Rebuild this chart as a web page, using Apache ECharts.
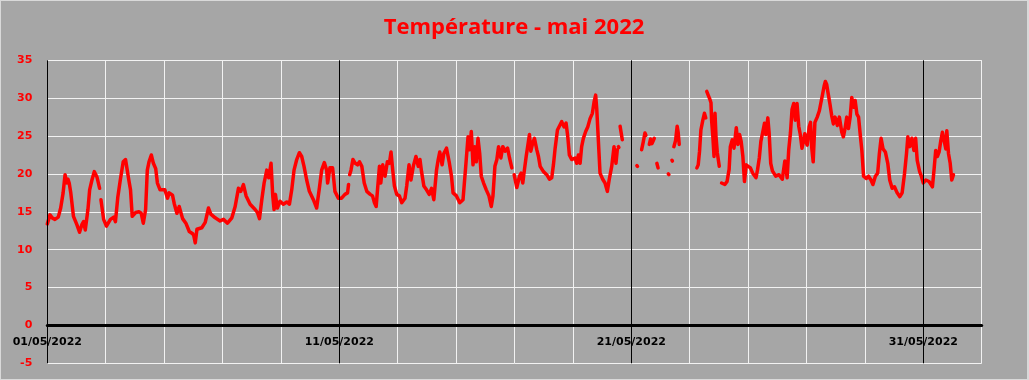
<!DOCTYPE html>
<html>
<head>
<meta charset="utf-8">
<script src="https://cdn.jsdelivr.net/npm/echarts@6/dist/echarts.min.js"></script>
<style>
  html, body { margin: 0; padding: 0; background: #d9d9d9; }
  #chart {
    width: 1029px;
    height: 380px;
    box-sizing: border-box;
    border-style: solid;
    border-color: #d9d9d9;
    border-width: 1px 2px 1px 1px;
  }
</style>
</head>
<body>
<div id="chart"></div>
<script>
// heures depuis le 01/05/2022 00:00
const labelHours = [0, 240, 480, 720];
const dateLabels = ['01/05/2022', '11/05/2022', '21/05/2022', '31/05/2022'];

// relevés (heure, température °C) ; null = pas de mesure
const hours = [
  0, 2.2, 4, 6.3, 9, 11, 13, 14.6, 16, 17, 18, 19.3, 21.5, 24.3, 26.5, 28.4, 29.8, 31.2, 33.4, 34.8,
  36.7, 38.6, 40.8, 43, 43.6,
  44.1, 46.3, 48.6, 51.9, 54.6, 56, 58, 60, 62.4, 64.3, 65.7, 67, 68.4, 69.8, 72.6, 75.3, 77.2, 78.9, 80.8, 82.2,
  83.6, 85.5, 87.2, 89.1, 90.5, 92.7, 96.6, 98.8, 100.2, 102.9, 104.3, 106.5, 108.4, 111.2, 113.9, 116.7, 119.5, 120.5, 121.6, 122.2,
  123, 127, 129.8, 132.5, 134.4, 138, 142, 144.8, 148.1, 151.7, 154.4, 157.1, 159, 161.2, 163.4, 166.7, 170.8, 172.7, 174.4, 176.3,
  178.2, 180.4, 182, 183.9, 185.3, 186.4, 187.5, 189.1, 191.3, 194, 196.8, 199, 200.9, 202.8, 205, 207.2, 209.1, 211, 213.2, 215.4,
  218.7, 221.4, 223.6, 225.5, 227.7, 229.6, 230.4, 232.3, 234.5, 236.4, 239.2, 241.9, 244.6, 246.8, 247.6, 248,
  248.5, 249.6, 251.2, 253.1, 255, 256.6, 258.5, 260.5, 262.6, 265.4, 267.3, 268.9, 270.3, 271.4, 273, 274.1, 275.7, 277.6, 279.5, 281.2,
  282.5, 283.9, 285.3, 287.2, 289.4, 291.3, 294, 295.4, 297.3, 298.9, 300.8, 303, 304.9, 306.3, 307.6, 309.5, 311.7, 313.9, 315.8, 317.7,
  319.9, 321.3, 322.6, 324.5, 325.9, 328.1, 330.3, 332.2, 333.5, 336.3, 339, 341.7, 343.9, 345.8, 347.2, 348.5, 349.9, 351.3, 352.6, 354,
  355.4, 356.7, 358.6, 360.8, 363, 364.9, 366.3, 367.9, 369.5, 370.9, 372.8, 374.4, 376.3, 378.3, 379.9, 381.8, 382.8,
  383.7, 385.9, 388.1, 389.5, 390.8, 392.2, 393.6, 394.9, 396.3, 397.4, 399, 400.4, 402.3, 403.7, 405.1, 407.8, 410.5, 412.7, 414.6, 416,
  417.4, 419.3, 421.5, 422.8, 424.8, 426.4, 427.8, 429.1, 431, 433.8, 435.1, 436.5, 437.9, 439.2, 440.6, 442.5, 444.2, 446.1, 448, 449.4,
  450.7, 451.6, 452.9, 454.3, 456.5, 458.4, 460.3, 461.9, 463.9, 465.8, 467.4, 468.5, 469,
  469.4, 469.8, 470.3,
  470.8, 471.6, 472.6, 473,
  484.6, 485.1, 486,
  488.5, 489.8, 491.2, 492, 493.5,
  494.8, 495.8, 497, 498.9, 500,
  501, 502, 505,
  510.4, 510.9, 512,
  513.4, 513.8, 514.4,
  515, 516.4, 517.7, 518.5, 519.4, 525,
  533.9, 535, 536.1, 537.2, 538.8, 540.1, 541.2, 541.6,
  542, 543.2, 544.7, 545.5, 546, 547, 548, 548.8, 549.6, 550.7, 552.3, 553.2,
  554.2, 556.9, 558.7, 560.4, 561.4, 563, 564.4, 566.3, 567.6, 569, 570.3, 571.7, 573, 574.4, 575.7, 577.9, 579.8, 582.5, 583.8, 585.2,
  586.5, 587.9, 589.5, 590.6, 592.2, 593.3, 594.6, 596, 598.7, 601.4, 604.1, 606.2, 608.1, 609.4, 610.8, 612.1, 613.5, 614.8, 616.2, 617.6,
  618.9, 620.3, 621.2, 622.6, 623.8, 624.6, 626.2, 627.3, 628.4, 629.5, 630.9, 632.8, 634.5, 635.6, 637.2, 638.5, 639.5, 640.6, 641.6, 643.3,
  644.7, 646.1, 647.5, 649.4, 651, 653, 654.3, 655.7, 657.1, 658.5, 659.9, 661.2, 662.6, 664, 665.4, 666.8, 668.1, 669.5, 670.9, 673.1,
  675, 677, 678.6, 680.6, 682.5, 683.9, 685.3, 686.9, 688.8, 690.8, 692.4, 694.4, 696.3, 698.5, 700.7, 702.6, 704.6, 706.2, 707.3, 708.9,
  710.6, 712.3, 713.7, 715, 717, 718.4, 720, 722, 724.7, 727.5, 728.8, 730.2, 731.6, 733, 734.4, 735.7, 737.1, 738.5, 739.3, 740.7,
  742.1, 743.4, 744.8
];
const temps = [
  13.4, 14.6, 14.2, 14.0, 14.3, 15.5, 17.5, 19.9, 18.8, 19.3, 18.8, 17.5, 14.4, 13.3, 12.3, 13.3, 13.7, 12.6, 15.3, 17.9,
  19.2, 20.3, 19.6, 18.1, null,
  16.6, 14.0, 13.1, 14.0, 14.3, 13.7, 17.0, 19.2, 21.6, 21.9, 20.5, 19.2, 17.9, 14.4, 14.9, 15.0, 14.8, 13.5, 15.3, 20.5,
  21.6, 22.5, 21.4, 20.7, 18.8, 17.9, 17.9, 16.8, 17.5, 17.2, 16.1, 14.8, 15.7, 14.1, 13.5, 12.4, 12.1, 11.8, 10.9, 10.7,
  12.7, 12.9, 13.6, 15.5, 14.7, 14.2, 13.8, 14.0, 13.5, 14.2, 15.7, 18.1, 17.7, 18.6, 17.1, 16.0, 15.3, 14.9, 14.1, 16.6,
  18.8, 20.5, 19.5, 21.4, 17.1, 15.3, 17.3, 15.5, 16.4, 16.0, 16.3, 16.0, 17.9, 20.5, 21.9, 22.8, 22.3, 21.0, 19.2, 17.7,
  16.6, 15.5, 18.1, 20.5, 21.5, 20.5, 18.8, 20.8, 20.8, 17.7, 16.8, 16.8, 17.3, 17.5, 18.6, null,
  19.9, 20.5, 21.9, 21.4, 21.2, 21.6, 21.0, 18.8, 17.7, 17.3, 17.1, 16.2, 15.7, 17.9, 21.0, 18.8, 21.2, 19.7, 21.6, 21.4,
  22.9, 20.5, 18.4, 17.3, 17.1, 16.2, 16.8, 18.4, 21.2, 19.2, 21.0, 22.3, 21.0, 21.9, 20.3, 18.4, 17.9, 17.3, 18.1, 16.6,
  20.5, 21.9, 22.9, 21.2, 22.7, 23.4, 21.6, 19.7, 17.5, 17.1, 16.2, 16.6, 21.0, 24.9, 23.2, 25.6, 21.2, 23.6, 21.6, 24.7,
  22.7, 19.7, 18.8, 17.9, 17.1, 15.7, 17.1, 21.0, 21.9, 23.6, 22.1, 23.6, 23.0, 23.4, 22.1, 20.8, null,
  19.9, 18.2, 19.7, 20.1, 18.8, 20.6, 22.3, 22.5, 25.2, 23.0, 24.1, 24.7, 23.2, 22.3, 21.0, 20.3, 19.9, 19.3, 19.5, 21.2,
  23.4, 25.8, 26.5, 26.9, 26.2, 26.7, 24.9, 22.5, 21.9, 22.1, 21.4, 22.5, 21.4, 23.6, 24.7, 25.6, 26.2, 27.3, 28.0, 29.5,
  30.4, 28.6, 24.5, 20.1, 19.3, 18.8, 17.7, 19.3, 21.0, 23.6, 21.4, 23.2, null,
  23.6, 23.5, null,
  26.3, 25.5, 24.5, null,
  21.1, 21.0, null,
  23.2, 24.2, 25.4, 25.1, null,
  23.9, 24.6, 24.0, 24.7, null,
  21.4, 20.8, null,
  20.0, 19.9, null,
  21.8, 21.7, null,
  23.6, 24.4, 26.3, 25.5, 23.9, null,
  20.8, 21.2, 23.0, 25.8, 27.1, 28.0, 27.4, null,
  30.9, 30.4, 29.8, 29.4, 27.1, 25.0, 22.3, 28.0, 25.0, 22.8, 21.0, null,
  18.8, 18.6, 19.0, 20.6, 23.6, 24.5, 23.4, 26.1, 23.9, 25.2, 24.3, 22.3, 19.0, 21.2, 21.0, 20.8, 20.1, 19.5, 20.6, 22.1,
  24.3, 25.4, 26.7, 25.2, 27.4, 25.4, 21.4, 20.4, 19.7, 19.9, 19.3, 21.7, 19.5, 23.2, 25.4, 28.5, 29.3, 27.1, 29.3, 26.3,
  25.2, 23.4, 23.3, 25.3, 24.1, 23.8, 26.2, 26.8, 23.3, 21.6, 26.8, 27.5, 28.3, 29.2, 30.5, 31.6, 32.2, 31.8, 30.8, 29.2,
  27.7, 26.6, 27.5, 26.4, 27.5, 25.5, 24.9, 26.0, 27.5, 26.0, 27.5, 30.1, 28.8, 29.7, 27.9, 27.5, 25.3, 23.1, 19.7, 19.4,
  19.7, 19.2, 18.6, 19.7, 20.1, 22.7, 24.7, 23.3, 22.9, 21.4, 19.2, 18.1, 18.3, 17.5, 17.0, 17.5, 20.1, 22.7, 24.9, 23.6,
  24.7, 23.1, 24.7, 21.8, 20.3, 19.7, 18.8, 19.2, 19.0, 18.3, 20.5, 23.1, 22.3, 22.9, 24.4, 25.5, 25.7, 23.3, 25.7, 22.7,
  21.4, 19.2, 19.9
];

const chart = echarts.init(document.getElementById('chart'));

const option = {
  backgroundColor: '#a6a6a6',
  animation: false,
  title: {
    text: 'Température - mai 2022',
    left: 'center',
    top: 11,
    textStyle: {
      color: '#ff0000',
      fontSize: 22,
      fontWeight: 'bold',
      fontFamily: 'Open Sans',
    },
  },
  grid: {
    left: 46.3,
    right: 45.3,
    top: 59.3,
    bottom: 15.7,
    containLabel: false,
    outerBoundsMode: 'none',
  },
  xAxis: {
    type: 'value',
    min: 0,
    max: 768,
    interval: 48,
    axisLine: {
      onZero: true,
      lineStyle: { color: '#000000', width: 3 },
    },
    axisTick: { show: false },
    axisLabel: {
      color: '#000000',
      fontFamily: 'DejaVu Sans',
      fontWeight: 'bold',
      fontSize: 11,
      margin: -27, // les dates restent sous la ligne du zéro
      hideOverlap: false,
      formatter: (v) => {
        const i = labelHours.indexOf(v);
        return i >= 0 ? dateLabels[i] : '';
      },
    },
    splitLine: {
      show: true,
      lineStyle: { color: '#f2f2f2', width: 1 },
    },
  },
  yAxis: {
    type: 'value',
    min: -5,
    max: 35,
    interval: 5,
    axisLine: { show: false },
    axisTick: { show: false },
    axisLabel: {
      color: '#ff0000',
      fontFamily: 'DejaVu Sans',
      fontWeight: 'bold',
      fontSize: 11,
      margin: 15,
    },
    splitLine: {
      lineStyle: { color: '#f2f2f2', width: 1 },
    },
  },
  series: [
    {
      type: 'line',
      data: hours.map((h, i) => [h, temps[i]]),
      showSymbol: false,
      connectNulls: false,
      lineStyle: { color: '#ff0000', width: 3.5, cap: 'round', join: 'round' },
      markLine: {
        silent: true,
        symbol: 'none',
        label: { show: false },
        lineStyle: { color: '#000000', width: 1, type: 'solid' },
        data: labelHours.map((h) => ({ xAxis: h })),
      },
    },
  ],
};

chart.setOption(option);
</script>
</body>
</html>
